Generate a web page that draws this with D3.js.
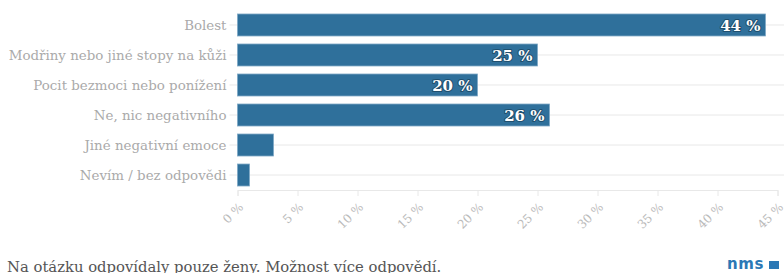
<!DOCTYPE html>
<meta charset="utf-8">
<style>
body{
  margin:0;
  background:#fff;
}
svg{
  display:block;
}
.cat{
  font-family:"DejaVu Serif", serif;
  font-size:13.4px;
  fill:#aaaaaa;
  text-anchor:end;
}
.val{
  font-family:"DejaVu Serif", serif;
  font-size:15px;
  font-weight:bold;
  fill:#fff;
  text-anchor:end;
  paint-order:stroke;
  stroke:#1f4f6e;
  stroke-width:2px;
  stroke-linejoin:round;
}
.xaxis text{
  font-family:"DejaVu Serif", serif;
  font-size:12px;
  fill:#bbbbbb;
}
.grid line{
  stroke:#e8e8e8;
}
.note{
  font-family:"DejaVu Serif", serif;
  font-size:14.8px;
  fill:#555;
}
.logo{
  font-family:"DejaVu Sans", sans-serif;
  font-weight:bold;
  font-size:15px;
  letter-spacing:0.6px;
  fill:#2b78b5;
}
</style>
<body>
<div id="chart"></div>

<script src="https://d3js.org/d3.v7.min.js"></script>
<script>
var categories = ["Bolest", "Modřiny nebo jiné stopy na kůži", "Pocit bezmoci nebo ponížení",
  "Ne, nic negativního", "Jiné negativní emoce", "Nevím / bez odpovědi"];
var values = [44, 25, 20, 26, 3, 1];
var xTicks = [0, 5, 10, 15, 20, 25, 30, 35, 40, 45];
var note = "Na otázku odpovídaly pouze ženy. Možnost více odpovědí.";

var W = 784, H = 273;
var svg = d3.select("#chart").append("svg").attr("width", W).attr("height", H);

var x = d3.scaleLinear().domain([0, 45]).range([237.5, 777.5]);
var y = d3.scaleBand().domain(categories).range([10, 190])
  .paddingInner(0.267).paddingOuter(0.133);

// row grid lines
svg.append("g").attr("class", "grid")
  .selectAll("line").data(categories).enter().append("line")
  .attr("x1", x(0) - 8).attr("x2", W)
  .attr("y1", d => y(d) + y.bandwidth() / 2)
  .attr("y2", d => y(d) + y.bandwidth() / 2);

// x axis
var xa = svg.append("g").attr("class", "xaxis")
  .attr("transform", "translate(0,190)")
  .call(d3.axisBottom(x).tickValues(xTicks).tickSize(6).tickFormat(d => d + " %"));
xa.select(".domain").attr("stroke", "#e8e8e8");
xa.selectAll(".tick line").attr("stroke", "#e8e8e8");
xa.selectAll(".tick text")
  .attr("text-anchor", "end")
  .attr("dy", null)
  .attr("y", 0)
  .attr("transform", "translate(6,18) rotate(-45)");

svg.append("g").selectAll("rect").data(values).enter().append("rect")
  .attr("x", x(0))
  .attr("y", (d, i) => y(categories[i]))
  .attr("width", d => x(d) - x(0))
  .attr("height", y.bandwidth())
  .attr("fill", "#2f709b")
  .attr("stroke", "#7fa9c6")
  .attr("stroke-width", 0.8);

svg.append("g").selectAll("text").data(categories).enter().append("text")
  .attr("class", "cat")
  .attr("x", x(0) - 11)
  .attr("y", d => y(d) + y.bandwidth() / 2)
  .attr("dy", "0.35em")
  .text(d => d);

svg.append("g").selectAll("text").data(values.filter(v => v >= 10)).enter().append("text")
  .attr("class", "val")
  .attr("x", d => x(d) - 5)
  .attr("y", (d, i) => y(categories[values.indexOf(d)]) + y.bandwidth() / 2)
  .attr("dy", "0.37em")
  .text(d => d + " %");

svg.append("text").attr("class", "note").attr("x", 7).attr("y", 272).text(note);

svg.append("text").attr("class", "logo").attr("x", 727).attr("y", 269).text("nms");
svg.append("rect").attr("x", 769).attr("y", 261).attr("width", 10).attr("height", 8).attr("fill", "#2b78b5");
</script>
</body>
